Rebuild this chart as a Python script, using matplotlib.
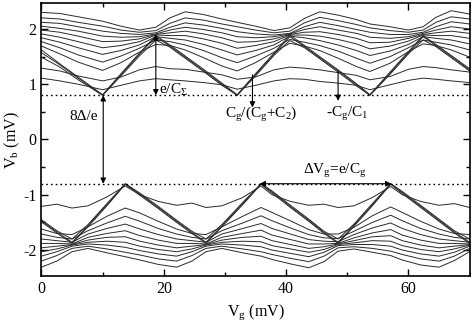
import numpy as np
import matplotlib
matplotlib.use('Agg')
import matplotlib.pyplot as plt
from matplotlib.ticker import MultipleLocator

plt.rcParams['font.family'] = ['Liberation Serif', 'DejaVu Serif']
plt.rcParams['mathtext.fontset'] = 'custom'
plt.rcParams['mathtext.rm'] = 'Liberation Serif'
plt.rcParams['mathtext.it'] = 'Liberation Serif:italic'
plt.rcParams['axes.unicode_minus'] = False

# Vg grid for the upper (positive Vb) set of curves
vg_up = [0, 3, 6, 10, 13, 16, 18.7, 21, 23.5, 26.5, 29.5, 32, 35, 38, 40.6,
         43, 45.5, 48.5, 51.5, 53.7, 57, 60, 62.4, 64.5, 67, 70]

# upper curves, top to bottom
up_1 = [2.30, 2.28, 2.22, 2.14, 2.05, 1.98, 2.03, 2.20, 2.31, 2.26, 2.18, 2.12, 2.05, 1.97,
        2.02, 2.19, 2.31, 2.25, 2.17, 2.09, 2.04, 1.98, 2.04, 2.21, 2.33, 2.27]
up_2 = [2.20, 2.18, 2.12, 2.05, 1.98, 1.94, 1.97, 2.10, 2.20, 2.16, 2.09, 2.04, 1.98, 1.93,
        1.96, 2.11, 2.21, 2.15, 2.08, 2.02, 1.97, 1.94, 1.98, 2.12, 2.22, 2.18]
up_3 = [2.12, 2.10, 2.04, 1.96, 1.92, 1.90, 1.93, 2.03, 2.11, 2.07, 2.01, 1.95, 1.91, 1.89,
        1.92, 2.04, 2.12, 2.06, 1.99, 1.94, 1.90, 1.90, 1.94, 2.04, 2.13, 2.09]
up_4 = [2.05, 2.01, 1.96, 1.87, 1.85, 1.86, 1.91, 1.98, 2.03, 1.99, 1.93, 1.86, 1.84, 1.86,
        1.91, 1.99, 2.04, 1.98, 1.92, 1.85, 1.83, 1.86, 1.92, 1.98, 2.04, 2.00]
up_5 = [1.98, 1.94, 1.87, 1.77, 1.78, 1.82, 1.90, 1.93, 1.96, 1.91, 1.84, 1.76, 1.77, 1.82,
        1.90, 1.94, 1.95, 1.90, 1.83, 1.75, 1.76, 1.83, 1.90, 1.93, 1.96, 1.92]
up_6 = [1.91, 1.85, 1.77, 1.66, 1.70, 1.77, 1.89, 1.88, 1.88, 1.82, 1.74, 1.65, 1.70, 1.77,
        1.89, 1.89, 1.87, 1.81, 1.73, 1.64, 1.69, 1.78, 1.89, 1.88, 1.88, 1.83]
up_7 = [1.84, 1.76, 1.66, 1.54, 1.61, 1.71, 1.86, 1.83, 1.80, 1.72, 1.62, 1.53, 1.61, 1.71,
        1.87, 1.84, 1.79, 1.71, 1.61, 1.52, 1.60, 1.72, 1.86, 1.83, 1.80, 1.73]
up_8 = [1.77, 1.66, 1.53, 1.40, 1.51, 1.65, 1.80, 1.77, 1.71, 1.61, 1.48, 1.39, 1.51, 1.65,
        1.81, 1.76, 1.70, 1.60, 1.47, 1.38, 1.50, 1.66, 1.80, 1.76, 1.71, 1.62]
up_9 = [1.69, 1.55, 1.40, 1.25, 1.39, 1.58, 1.72, 1.70, 1.62, 1.48, 1.33, 1.24, 1.39, 1.58,
        1.74, 1.69, 1.61, 1.47, 1.32, 1.23, 1.38, 1.59, 1.73, 1.70, 1.62, 1.49]
up_10 = [1.62, 1.37, 1.13, 0.81, 1.19, 1.56, 1.88, 1.71, 1.51, 1.27, 1.02, 0.81, 1.19, 1.56,
         1.89, 1.70, 1.50, 1.26, 1.01, 0.81, 1.22, 1.59, 1.88, 1.72, 1.52, 1.28]
up_11 = [1.57, 1.35, 1.11, 0.80, 1.17, 1.54, 1.86, 1.69, 1.49, 1.25, 1.00, 0.80, 1.17, 1.54,
         1.86, 1.68, 1.48, 1.24, 0.99, 0.80, 1.20, 1.57, 1.86, 1.70, 1.50, 1.26]
up_12 = [1.49, 1.31, 1.08, 0.80, 1.15, 1.51, 1.80, 1.67, 1.47, 1.23, 0.98, 0.80, 1.15, 1.52,
         1.79, 1.66, 1.46, 1.22, 0.97, 0.80, 1.18, 1.55, 1.80, 1.68, 1.48, 1.24]
up_13 = [1.29, 1.24, 1.15, 1.06, 1.13, 1.26, 1.32, 1.28, 1.27, 1.22, 1.17, 1.09, 1.13, 1.26,
         1.31, 1.29, 1.26, 1.21, 1.16, 1.08, 1.14, 1.27, 1.32, 1.30, 1.26, 1.22]
up_14 = [1.11, 1.06, 1.00, 0.90, 0.98, 1.06, 1.10, 1.08, 1.06, 1.03, 0.99, 0.91, 0.98, 1.06,
         1.10, 1.09, 1.05, 1.02, 0.98, 0.90, 0.99, 1.07, 1.11, 1.09, 1.06, 1.03]

# Vg grid for the lower (negative Vb) set of curves
vg_lo = [0, 2.5, 5, 7.6, 10.7, 13.7, 16.1, 19.1, 22.1, 24.6, 26.9, 29.5, 32.9, 35.9,
         37.7, 40.7, 43.7, 46.2, 48.5, 51.1, 54.1, 57.1, 59.0, 62.0, 65.0, 67.5, 70]

lo_1 = [-2.31, -2.20, -2.03, -1.97, -2.05, -2.12, -2.18, -2.26, -2.31, -2.20, -2.03, -1.97, -2.05, -2.11,
        -2.17, -2.25, -2.32, -2.21, -2.02, -1.98, -2.04, -2.10, -2.18, -2.27, -2.31, -2.19, -2.03]
lo_2 = [-2.20, -2.10, -1.97, -1.93, -1.98, -2.04, -2.09, -2.16, -2.20, -2.10, -1.97, -1.93, -1.98, -2.03,
        -2.08, -2.15, -2.21, -2.11, -1.96, -1.94, -1.97, -2.02, -2.08, -2.16, -2.20, -2.11, -1.97]
lo_3 = [-2.11, -2.03, -1.93, -1.89, -1.91, -1.95, -2.01, -2.07, -2.11, -2.03, -1.93, -1.89, -1.91, -1.94,
        -2.00, -2.06, -2.12, -2.04, -1.92, -1.90, -1.90, -1.93, -2.00, -2.07, -2.11, -2.04, -1.93]
lo_4 = [-2.03, -1.98, -1.91, -1.86, -1.84, -1.86, -1.93, -1.99, -2.03, -1.98, -1.91, -1.86, -1.84, -1.85,
        -1.92, -1.98, -2.04, -1.99, -1.90, -1.87, -1.83, -1.84, -1.92, -1.99, -2.03, -1.98, -1.91]
lo_5 = [-1.96, -1.93, -1.90, -1.82, -1.77, -1.76, -1.84, -1.91, -1.96, -1.93, -1.90, -1.82, -1.77, -1.75,
        -1.83, -1.90, -1.97, -1.94, -1.89, -1.83, -1.76, -1.74, -1.83, -1.91, -1.96, -1.93, -1.90]
lo_6 = [-1.88, -1.88, -1.89, -1.77, -1.70, -1.65, -1.74, -1.82, -1.88, -1.88, -1.89, -1.77, -1.70, -1.64,
        -1.73, -1.81, -1.89, -1.89, -1.88, -1.78, -1.69, -1.63, -1.73, -1.82, -1.88, -1.88, -1.89]
lo_7 = [-1.80, -1.83, -1.86, -1.71, -1.61, -1.53, -1.62, -1.72, -1.80, -1.83, -1.86, -1.71, -1.61, -1.52,
        -1.61, -1.71, -1.81, -1.84, -1.85, -1.72, -1.60, -1.51, -1.61, -1.72, -1.80, -1.83, -1.86]
lo_8 = [-1.71, -1.77, -1.80, -1.65, -1.51, -1.39, -1.48, -1.61, -1.71, -1.77, -1.80, -1.65, -1.51, -1.38,
        -1.47, -1.60, -1.72, -1.78, -1.79, -1.66, -1.50, -1.37, -1.47, -1.61, -1.71, -1.77, -1.80]
lo_9 = [-1.62, -1.70, -1.72, -1.58, -1.39, -1.24, -1.33, -1.48, -1.62, -1.70, -1.72, -1.58, -1.39, -1.23,
        -1.32, -1.47, -1.63, -1.71, -1.71, -1.59, -1.38, -1.22, -1.32, -1.48, -1.62, -1.70, -1.72]
lo_10 = [-1.49, -1.69, -1.88, -1.58, -1.20, -0.81, -1.01, -1.25, -1.50, -1.70, -1.88, -1.58, -1.18, -0.81,
         -0.97, -1.23, -1.48, -1.70, -1.88, -1.57, -1.20, -0.81, -0.98, -1.23, -1.48, -1.69, -1.88]
lo_11 = [-1.47, -1.67, -1.86, -1.56, -1.18, -0.80, -0.99, -1.23, -1.48, -1.68, -1.86, -1.56, -1.16, -0.80,
         -0.95, -1.21, -1.46, -1.68, -1.86, -1.55, -1.18, -0.80, -0.96, -1.21, -1.46, -1.67, -1.86]
lo_12 = [-1.45, -1.65, -1.80, -1.54, -1.16, -0.80, -0.97, -1.21, -1.46, -1.66, -1.80, -1.54, -1.14, -0.80,
         -0.93, -1.19, -1.44, -1.66, -1.80, -1.53, -1.16, -0.80, -0.94, -1.19, -1.44, -1.65, -1.80]
lo_13 = [-1.21, -1.17, -1.24, -1.20, -1.04, -0.84, -1.00, -1.12, -1.19, -1.15, -1.23, -1.20, -1.05, -0.84,
         -1.00, -1.12, -1.19, -1.17, -1.23, -1.20, -1.05, -0.85, -1.00, -1.12, -1.19, -1.16, -1.23]

upper = [up_1, up_2, up_3, up_4, up_5, up_6, up_7, up_8, up_9, up_10, up_11, up_12, up_13, up_14]
lower = [lo_1, lo_2, lo_3, lo_4, lo_5, lo_6, lo_7, lo_8, lo_9, lo_10, lo_11, lo_12, lo_13]

gap = 0.8  # 4 Delta / e

fig = plt.figure(figsize=(4.71, 3.29), dpi=100)
ax = fig.add_axes([0.088, 0.161, 0.909, 0.830])

for c in upper:
    ax.plot(vg_up, c, color='#2a2a2a', lw=0.7)
for c in lower:
    ax.plot(vg_lo, c, color='#2a2a2a', lw=0.7)

ax.axhline(gap, color='black', ls=(0, (1.2, 2.2)), lw=1.0)
ax.axhline(-gap, color='black', ls=(0, (1.2, 2.2)), lw=1.0)

arr = dict(arrowstyle='<|-|>', color='black', lw=0.8, mutation_scale=8, shrinkA=0, shrinkB=0)
arr1 = dict(arrowstyle='-|>', color='black', lw=0.8, mutation_scale=8, shrinkA=0, shrinkB=0)

# 8Delta/e
ax.annotate('', xy=(10.1, gap), xytext=(10.1, -gap), arrowprops=arr)
ax.text(9.3, 0.42, '8Δ/e', ha='right', va='center', fontsize=11)

# e/C_Sigma
ax.annotate('', xy=(18.7, 1.9), xytext=(18.7, gap), arrowprops=arr)
ax.text(19.3, 0.9, r'e/C$_\mathrm{\Sigma}$', ha='left', va='center', fontsize=11)

# slopes
ax.annotate('', xy=(34.5, 0.58), xytext=(34.5, 1.17), arrowprops=arr1)
ax.text(36.0, 0.46, r'C$_\mathrm{g}$/(C$_\mathrm{g}$+C$_\mathrm{2}$)', ha='center', va='center', fontsize=11)
ax.annotate('', xy=(48.5, 0.70), xytext=(48.5, 1.23), arrowprops=arr1)
ax.text(50.0, 0.46, r'-C$_\mathrm{g}$/C$_\mathrm{1}$', ha='center', va='center', fontsize=11)

# period
ax.annotate('', xy=(35.7, -gap), xytext=(57.2, -gap), arrowprops=arr)
ax.text(48.0, -0.57, r'ΔV$_\mathrm{g}$=e/C$_\mathrm{g}$', ha='center', va='center', fontsize=11)

ax.set_xlim(0, 70)
ax.set_ylim(-2.47, 2.47)
ax.xaxis.set_major_locator(MultipleLocator(20))
ax.xaxis.set_minor_locator(MultipleLocator(10))
ax.yaxis.set_major_locator(MultipleLocator(1))
ax.yaxis.set_minor_locator(MultipleLocator(0.5))
ax.tick_params(which='both', direction='in', top=True, right=True, labelsize=11.5, width=1.0)
ax.tick_params(which='major', length=5)
ax.tick_params(which='minor', length=3)
for s in ax.spines.values():
    s.set_linewidth(1.2)

ax.set_xlabel(r'V$_\mathrm{g}$ (mV)', fontsize=11.5, labelpad=4)
fig.text(0.027, 0.575, r'V$_\mathrm{b}$ (mV)', rotation=90, ha='center', va='center', fontsize=11.5)

fig.savefig('out.png', dpi=100)
